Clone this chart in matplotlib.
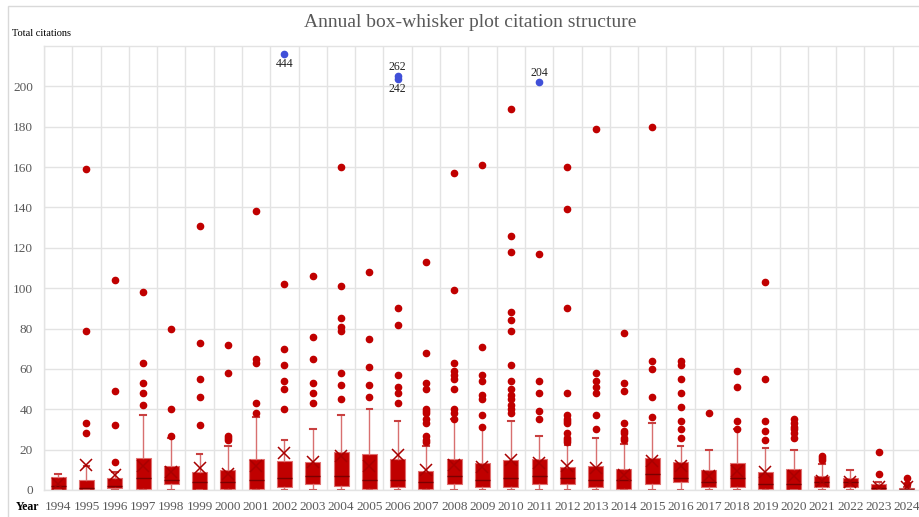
import matplotlib.pyplot as plt
from matplotlib.patches import Rectangle

# Yearly citation distributions
years = list(range(1994, 2025))
q1 = [0, 0, 1, 0.5, 3, 0, 0.5, 0.5, 1.7, 3, 2, 0.5, 1.7, 0.5, 3, 1.7,
      1.7, 3, 3, 1.7, 0.5, 3, 4, 1.7, 1.7, 0.5, 0, 1.7, 1.7, 0, 0]
medians = [2, 1, 2, 6, 5, 4, 4, 5, 6, 7, 7, 5, 5, 4, 7, 5,
           6, 7, 6, 5, 5, 8, 6, 4, 6, 3, 3, 4, 4, 1, 0.3]
q3 = [6.5, 5, 6, 16, 12, 9, 10, 15.5, 14.5, 14, 19, 18, 15.5, 9.5, 15.5, 13.3,
      15, 15.5, 11.3, 12, 10.3, 16, 14, 10, 13.3, 9, 10.3, 7, 6, 3, 1]
whisker_hi = [8, 12, 9, 37, 26, 18, 22, 36, 25, 30, 37, 40, 34, 22, 35, 31,
              34, 27, 22.5, 26, 23, 33, 22, 20, 30, 21, 20, 13, 10, 4, 1.5]
means = [3, 12.5, 7.5, 12, 9, 11, 8, 11.7, 18.3, 14, 16.7, 12, 17.5, 10, 12.5, 11.3,
         15, 13.3, 12, 11, 7.5, 14.5, 12, 7, 9.5, 9, 6.7, 4.7, 4, 1.7, 1.5]
outliers = [
    [],
    [28, 33, 79, 159],
    [14, 32, 49, 104],
    [42, 48, 53, 63, 98],
    [27, 40, 80],
    [32, 46, 55, 73, 131],
    [25, 26, 27, 58, 72],
    [38, 43, 63, 65, 138],
    [40, 50, 54, 62, 70, 102],
    [43, 48, 53, 65, 76, 106],
    [45, 52, 58, 79, 81, 85, 101, 160],
    [46, 52, 61, 75, 108],
    [43, 48, 51, 57, 82, 90],
    [24, 25, 27, 33, 35, 38, 39, 40, 50, 53, 68, 113],
    [35, 38, 40, 50, 55, 57, 59, 63, 99, 157],
    [31, 37, 45, 47, 54, 57, 71, 161],
    [38, 40, 42, 45, 47, 50, 54, 62, 79, 84, 88, 118, 126, 189],
    [35, 39, 48, 54, 117],
    [24, 25, 26, 28, 33, 34, 35, 37, 48, 90, 139, 160],
    [30, 37, 48, 51, 54, 58, 179],
    [25, 26, 28, 29, 33, 49, 53, 78],
    [36, 46, 60, 64, 180],
    [26, 30, 34, 41, 48, 55, 62, 64],
    [38],
    [30, 34, 51, 59],
    [25, 29, 34, 55, 103],
    [26, 28, 30, 31, 33, 35],
    [15, 16, 17],
    [],
    [8, 19],
    [3, 6],
]

# off-scale outliers: real value and the level at which they are drawn
extreme_years = [2002, 2006, 2006, 2011]
extreme_values = [444, 262, 242, 204]
extreme_shown_at = [216, 205, 203.5, 202]
extreme_label_above = [False, True, False, True]

RED = '#C00000'
GRID = '#E3E3E3'
GRAYTXT = '#595959'

plt.rcParams['font.family'] = ['Liberation Serif', 'DejaVu Serif']

fig = plt.figure(figsize=(9.2, 5.17), dpi=100)
ax = fig.add_axes([44 / 920, 27 / 517, 877 / 920, 444 / 517])

stats = []
for i, y in enumerate(years):
    stats.append(dict(label=str(y), q1=q1[i], med=medians[i], q3=q3[i],
                      whislo=0, whishi=whisker_hi[i], mean=means[i],
                      fliers=outliers[i]))

pos = list(range(len(years)))
ax.bxp(stats, positions=pos, widths=0.53, capwidths=0.2, patch_artist=True,
       showmeans=True,
       boxprops=dict(facecolor=RED, edgecolor='#E07070', linewidth=0.8),
       whiskerprops=dict(color='#D87070', linewidth=1.0),
       capprops=dict(color='#C84040', linewidth=1.5),
       medianprops=dict(color='#7A0000', linewidth=1.0),
       meanprops=dict(marker='x', markeredgecolor='#A80000', markersize=9,
                      markeredgewidth=1.1),
       flierprops=dict(marker='o', markerfacecolor=RED, markeredgecolor=RED,
                       markersize=4.5))

# off-scale points
for yr, v, lvl, above in zip(extreme_years, extreme_values, extreme_shown_at,
                             extreme_label_above):
    xi = years.index(yr)
    ax.plot(xi, lvl, 'o', color='#4050D8', markersize=4.5, zorder=5)
    ax.annotate(str(v), (xi, lvl), xytext=(0, 2.5 if above else -2.5),
                textcoords='offset points', ha='center',
                va='bottom' if above else 'top', fontsize=8.5, color='#222222')

ax.set_xlim(-0.5, len(years) - 0.5)
ax.set_ylim(0, 220)
ax.set_yticks(range(0, 201, 20))
ax.set_xticks(pos)
ax.set_xticklabels([str(y) for y in years])
ax.set_xticks([p - 0.5 for p in pos] + [len(years) - 0.5], minor=True)
ax.grid(True, axis='y', which='major', color=GRID, linewidth=1.0, zorder=0)
ax.grid(True, axis='x', which='minor', color=GRID, linewidth=1.0, zorder=0)
ax.set_axisbelow(True)
ax.tick_params(axis='both', which='both', length=0, colors=GRAYTXT, labelsize=9.5)
ax.tick_params(axis='y', pad=8)
ax.tick_params(axis='x', pad=8)
for s in ax.spines.values():
    s.set_color(GRID)
    s.set_linewidth(1.0)

fig.text(0.511, 0.957, 'Annual box-whisker plot citation structure',
         ha='center', va='center', fontsize=14, color=GRAYTXT)
fig.text(12 / 920, 1 - 34 / 517, 'Total citations', ha='left', va='center',
         fontsize=7.5, color='black')
fig.text(16 / 920, 1 - 507 / 517, 'Year', ha='left', va='center',
         fontsize=8.5, fontweight='bold', color='black')

fig.patches.append(Rectangle((8 / 920, -0.1), 1.2, 1 - 6 / 517 + 0.1,
                             transform=fig.transFigure, fill=False,
                             edgecolor='#D9D9D9', linewidth=1.0))

fig.savefig('out.png', dpi=100)
